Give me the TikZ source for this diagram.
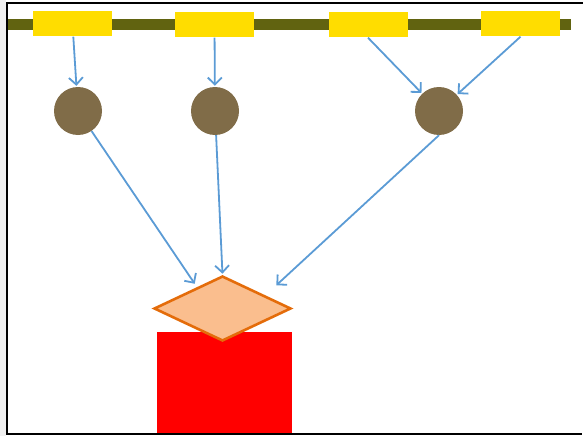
\documentclass[tikz,border=0pt]{standalone}
\usepackage{tikz}
\usetikzlibrary{shapes.geometric,arrows.meta}
\definecolor{myolive}{RGB}{97,99,16}
\definecolor{myyellow}{RGB}{255,221,0}
\definecolor{mybrown}{RGB}{128,108,72}
\definecolor{myblue}{RGB}{91,155,213}
\definecolor{mypeach}{RGB}{250,190,142}
\definecolor{myorange}{RGB}{228,108,10}
\definecolor{mygray}{RGB}{240,240,240}

\begin{document}
\begin{tikzpicture}[x=1pt,y=-1pt,
  slotnode/.style={fill=myyellow,minimum width=79pt,minimum height=25pt,inner sep=0pt},
  ballnode/.style={circle,fill=mybrown,minimum size=48pt,inner sep=0pt},
  gatenode/.style={diamond,draw=myorange,fill=mypeach,line width=2.6pt,
    minimum width=137pt,minimum height=65pt,inner sep=0pt},
  basenode/.style={fill=red,minimum width=135pt,minimum height=102pt,inner sep=0pt},
  link/.style={myblue,line width=1.8pt,-{Straight Barb[length=7pt,width=14pt]}},
  shorten >= 1pt
]
\useasboundingbox (0,0) rectangle (583,436);
\fill[mygray] (0,0) rectangle (6,436);

% the rail
\fill[myolive] (8,19) rectangle (571,30);

% the slots on the rail
\node[slotnode] (s1) at (72.5,24) {};
\node[slotnode] (s2) at (214.5,25) {};
\node[slotnode] (s3) at (368,25) {};
\node[slotnode] (s4) at (520.5,24) {};

% the balls
\node[ballnode] (b1) at (78,111) {};
\node[ballnode] (b2) at (215,111) {};
\node[ballnode] (b3) at (439,111) {};

% the base and the gate
\node[basenode] (base) at (224.5,383) {};
\node[gatenode] (gate) at (222.5,308.5) {};

% the edges
\draw[link] (s1) -- (b1);
\draw[link] (s2) -- (b2);
\draw[link] (s3.south) -- (b3);
\draw[link] (s4.south) -- (b3);
\draw[link,shorten >=4pt] (b1) -- (gate.140);
\draw[link] (b2) -- (gate.north);
\draw[link,shorten >=15pt] (b3.south) -- (gate.17);

% the frame
\draw[line width=2.5pt] (583,3) -- (7,3) -- (7,434) -- (583,434);
\end{tikzpicture}
\end{document}
